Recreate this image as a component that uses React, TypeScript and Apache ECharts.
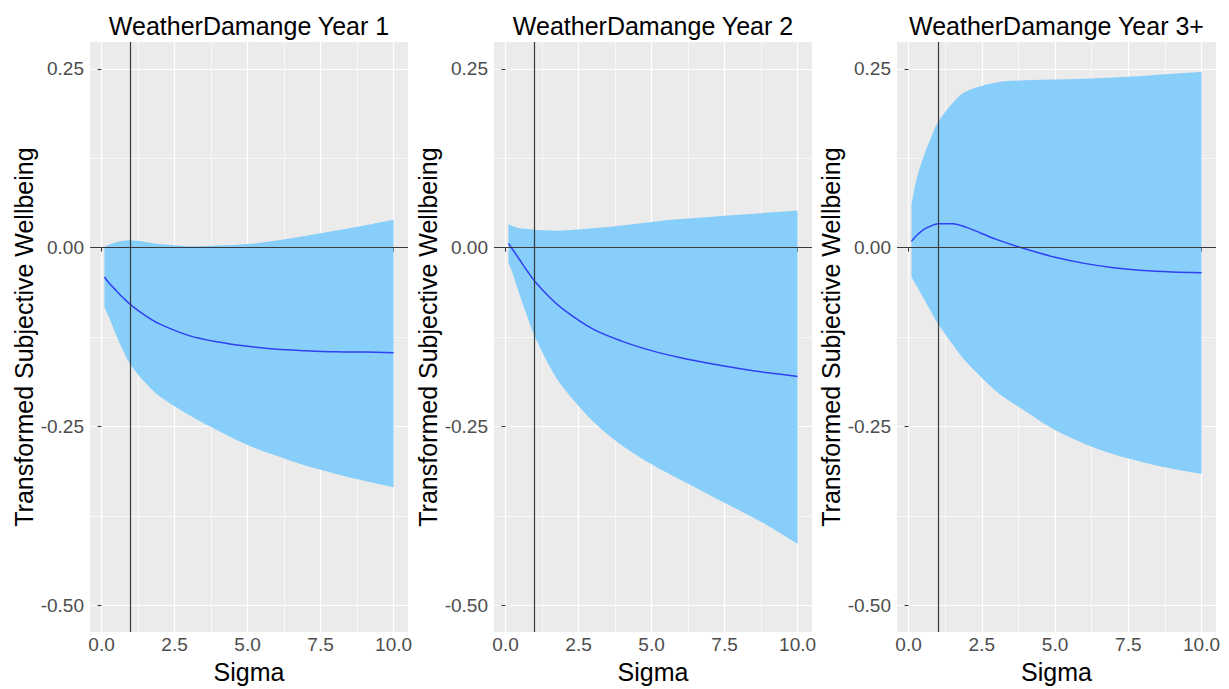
import React, { useEffect, useRef } from "react";
import * as echarts from "echarts";

// ---- data ----
const sigma = [0.1, 0.25, 0.5, 0.75, 1, 1.5, 2, 3, 4, 5, 6, 7, 8, 9, 10];

const titles = ["WeatherDamange Year 1", "WeatherDamange Year 2", "WeatherDamange Year 3+"];

const mean1 = [-0.041, -0.049, -0.060, -0.0705, -0.080, -0.095, -0.107, -0.123, -0.132, -0.138, -0.142, -0.144, -0.1455, -0.146, -0.147];
const lower1 = [-0.083, -0.097, -0.122, -0.145, -0.164, -0.189, -0.208, -0.234, -0.256, -0.276, -0.291, -0.305, -0.316, -0.326, -0.335];
const upper1 = [0.001, 0.004, 0.0075, 0.0095, 0.0102, 0.008, 0.005, 0.002, 0.003, 0.005, 0.010, 0.0165, 0.0235, 0.031, 0.039];

const mean2 = [0.006, -0.003, -0.018, -0.033, -0.047, -0.069, -0.087, -0.114, -0.131, -0.144, -0.154, -0.162, -0.169, -0.175, -0.180];
const lower2 = [-0.020, -0.037, -0.068, -0.097, -0.124, -0.165, -0.197, -0.243, -0.277, -0.303, -0.325, -0.346, -0.367, -0.389, -0.414];
const upper2 = [0.033, 0.030, 0.027, 0.026, 0.025, 0.024, 0.024, 0.027, 0.031, 0.036, 0.040, 0.043, 0.046, 0.049, 0.052];

const mean3 = [0.009, 0.016, 0.025, 0.030, 0.0335, 0.0335, 0.028, 0.0115, -0.002, -0.0135, -0.022, -0.028, -0.032, -0.034, -0.035];
const lower3 = [-0.041, -0.052, -0.070, -0.088, -0.106, -0.135, -0.161, -0.201, -0.229, -0.255, -0.274, -0.289, -0.300, -0.309, -0.316];
const upper3 = [0.059, 0.092, 0.126, 0.152, 0.175, 0.202, 0.219, 0.231, 0.234, 0.235, 0.236, 0.238, 0.240, 0.243, 0.246];

const means = [mean1, mean2, mean3];
const lowers = [lower1, lower2, lower3];
const uppers = [upper1, upper2, upper3];

const xMajor = [0, 2.5, 5, 7.5, 10];
const xMinor = [1.25, 3.75, 6.25, 8.75];
const yMajor = [-0.5, -0.25, 0, 0.25];
const yMinor = [-0.375, -0.125, 0.125];

const vLineAt = 1;
const hLineAt = 0;

// ---- layout ----
const FONT = "'Liberation Sans', Arial, Helvetica, sans-serif";
const panels = [
  { left: 90, width: 318 },
  { left: 494, width: 318 },
  { left: 897, width: 319 },
];
const TOP = 42;
const HEIGHT = 594;
const X_MIN = -0.395;
const X_MAX = 10.495;
const Y_MIN = -0.5375;
const Y_MAX = 0.2875;

function smoothPath(pts: number[][]): string {
  let d = "";
  for (let i = 0; i < pts.length - 1; i++) {
    const p0 = pts[i - 1] || pts[i];
    const p1 = pts[i];
    const p2 = pts[i + 1];
    const p3 = pts[i + 2] || p2;
    const c1x = p1[0] + (p2[0] - p0[0]) / 6;
    const c1y = p1[1] + (p2[1] - p0[1]) / 6;
    const c2x = p2[0] - (p3[0] - p1[0]) / 6;
    const c2y = p2[1] - (p3[1] - p1[1]) / 6;
    d += ` C${c1x},${c1y} ${c2x},${c2y} ${p2[0]},${p2[1]}`;
  }
  return d;
}

export default function App() {
  const ref = useRef<HTMLDivElement>(null);

  useEffect(() => {
    if (!ref.current) return;
    const chart = echarts.init(ref.current, null, { renderer: "svg" });

    const grid: any[] = [];
    const xAxis: any[] = [];
    const yAxis: any[] = [];
    const series: any[] = [];
    const title: any[] = [];

    panels.forEach((p, k) => {
      grid.push({
        left: p.left,
        top: TOP,
        width: p.width,
        height: HEIGHT,
        show: true,
        backgroundColor: "#EBEBEB",
        borderWidth: 0,
        containLabel: false,
      });
      title.push({
        text: titles[k],
        left: p.left + p.width / 2,
        top: 13,
        padding: 0,
        textAlign: "center",
        textStyle: { fontFamily: FONT, fontSize: 25, fontWeight: "normal", color: "#000" },
      });
      // major x axis
      xAxis.push({
        type: "value",
        gridIndex: k,
        min: X_MIN,
        max: X_MAX,
        name: "Sigma",
        nameLocation: "middle",
        nameGap: 22,
        nameTextStyle: { fontFamily: FONT, fontSize: 25, color: "#000" },
        axisLine: { show: false },
        axisTick: { show: true, length: 4, customValues: xMajor, lineStyle: { color: "#333333", width: 1 } },
        axisLabel: {
          customValues: xMajor,
          fontFamily: FONT,
          fontSize: 19,
          color: "#4D4D4D",
          margin: 3,
          formatter: (v: number) => v.toFixed(1),
        },
        splitLine: { show: true, lineStyle: { color: "#FFFFFF", width: 1.2 } },
      });
      // minor x axis
      xAxis.push({
        type: "value",
        gridIndex: k,
        min: X_MIN,
        max: X_MAX,
        axisLine: { show: false },
        axisTick: { show: false, customValues: xMinor },
        axisLabel: { show: false, customValues: xMinor },
        splitLine: { show: true, lineStyle: { color: "#FFFFFF", width: 0.6 } },
      });
      // major y axis
      yAxis.push({
        type: "value",
        gridIndex: k,
        min: Y_MIN,
        max: Y_MAX,
        name: "Transformed Subjective Wellbeing",
        nameLocation: "middle",
        nameGap: 53,
        nameRotate: 90,
        nameTextStyle: { fontFamily: FONT, fontSize: 25, color: "#000" },
        axisLine: { show: false },
        axisTick: { show: true, length: 4, customValues: yMajor, lineStyle: { color: "#333333", width: 1 } },
        axisLabel: {
          customValues: yMajor,
          fontFamily: FONT,
          fontSize: 19,
          color: "#4D4D4D",
          margin: 6,
          formatter: (v: number) => v.toFixed(2),
        },
        splitLine: { show: true, lineStyle: { color: "#FFFFFF", width: 1.2 } },
      });
      // minor y axis
      yAxis.push({
        type: "value",
        gridIndex: k,
        min: Y_MIN,
        max: Y_MAX,
        axisLine: { show: false },
        axisTick: { show: false, customValues: yMinor },
        axisLabel: { show: false, customValues: yMinor },
        splitLine: { show: true, lineStyle: { color: "#FFFFFF", width: 0.6 } },
      });

      const lo = lowers[k];
      const hi = uppers[k];
      const mu = means[k];

      series.push({
        type: "custom",
        name: "ribbon" + (k + 1),
        xAxisIndex: 2 * k,
        yAxisIndex: 2 * k,
        silent: true,
        z: 2,
        dimensions: ["sigma", "lower", "upper"],
        encode: { x: 0, y: [1, 2] },
        data: sigma.map((s, i) => [s, lo[i], hi[i]]),
        renderItem: (params: any, api: any) => {
          if (params.dataIndex !== 0) return null;
          const up = sigma.map((s, i) => api.coord([s, hi[i]]));
          const dn = sigma.map((s, i) => api.coord([s, lo[i]])).reverse();
          const d =
            `M${up[0][0]},${up[0][1]}` +
            smoothPath(up) +
            ` L${dn[0][0]},${dn[0][1]}` +
            smoothPath(dn) +
            " Z";
          return {
            type: "path",
            shape: { pathData: d },
            style: { fill: "#87CEFA", stroke: "none" },
          };
        },
      });

      series.push({
        type: "line",
        name: "mean" + (k + 1),
        xAxisIndex: 2 * k,
        yAxisIndex: 2 * k,
        data: sigma.map((s, i) => [s, mu[i]]),
        smooth: 0.33,
        showSymbol: false,
        symbol: "none",
        silent: true,
        z: 4,
        lineStyle: { color: "#3040F5", width: 1.5 },
        emphasis: { disabled: true },
        markLine: {
          silent: true,
          symbol: ["none", "none"],
          label: { show: false },
          lineStyle: { color: "#3a3a3a", width: 1.2, type: "solid" },
          emphasis: { disabled: true },
          data: [{ xAxis: vLineAt }, { yAxis: hLineAt }],
        },
      });
    });

    chart.setOption({
      animation: false,
      backgroundColor: "#FFFFFF",
      textStyle: { fontFamily: FONT },
      title,
      grid,
      xAxis,
      yAxis,
      series,
    });

    return () => chart.dispose();
  }, []);

  return (
    <div
      ref={ref}
      style={{ position: "absolute", left: 0, top: 0, width: 1229, height: 689 }}
    />
  );
}
